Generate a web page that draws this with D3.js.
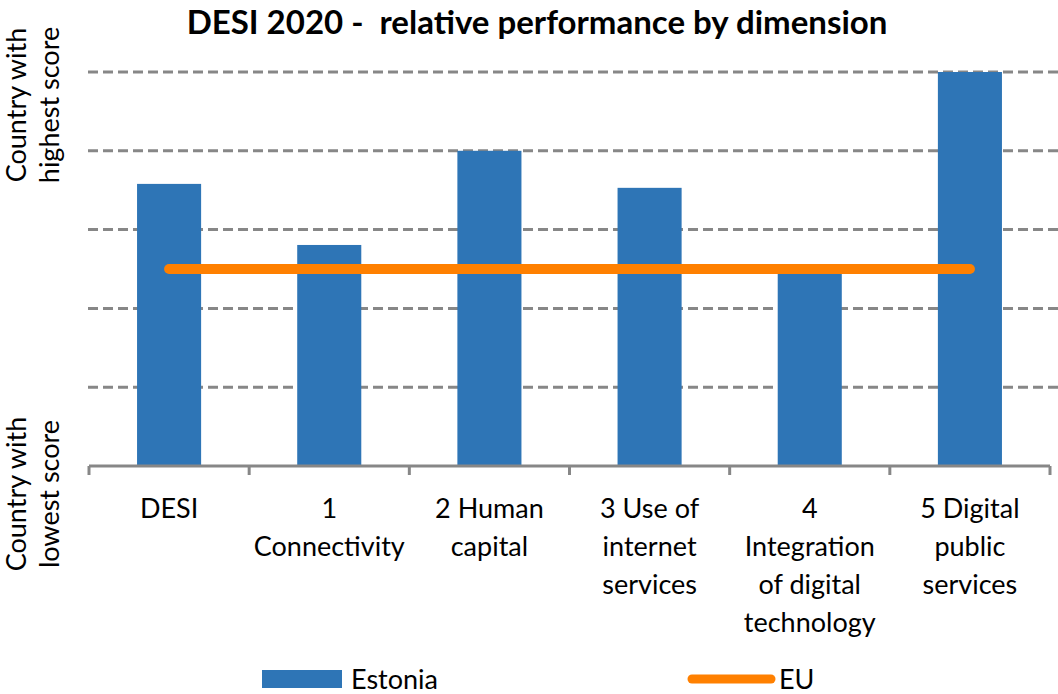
<!DOCTYPE html>
<html>
<head>
<meta charset="utf-8">
<script src="https://cdn.jsdelivr.net/npm/d3@7"></script>
<style>
  body { margin: 0; background: #fff; }
  svg { display: block; font-family: Lato, "Open Sans", sans-serif; }
</style>
</head>
<body>
<div id="chart"></div>
<script>
// DESI 2020 relative performance - Estonia vs EU
const categories = ["DESI", "1 Connectivity", "2 Human capital", "3 Use of internet services",
  "4 Integration of digital technology", "5 Digital public services"];
const labelLines = [
  ["DESI"],
  ["1", "Connectivity"],
  ["2 Human", "capital"],
  ["3 Use of", "internet", "services"],
  ["4", "Integration", "of digital", "technology"],
  ["5 Digital", "public", "services"]
];
const estonia = [0.716, 0.561, 0.80, 0.706, 0.49, 1.0];
const euValue = 0.5;
const yTicks = [0.2, 0.4, 0.6, 0.8, 1.0];

const W = 1058, H = 694;
const margin = { top: 72, right: 8, bottom: 228, left: 89 };
const width = W - margin.left - margin.right;
const height = H - margin.top - margin.bottom;

const blue = "#2E75B6", orange = "#FF8000", grey = "#878787";

const svg = d3.select("#chart").append("svg")
  .attr("width", W).attr("height", H);

const g = svg.append("g").attr("transform", `translate(${margin.left},${margin.top})`);

const x = d3.scaleBand().domain(categories).range([0, width]).padding(0);
const y = d3.scaleLinear().domain([0, 1]).range([height, 0]);

// title
svg.append("text")
  .attr("x", 537).attr("y", 34)
  .attr("text-anchor", "middle")
  .attr("font-weight", "bold")
  .attr("font-size", 33)
  .attr("fill", "#000")
  .attr("xml:space", "preserve")
  .text("DESI 2020 -  relative performance by dimension");

// gridlines
g.selectAll(".grid")
  .data(yTicks)
  .join("line")
  .attr("class", "grid")
  .attr("x1", -1).attr("x2", width + 8)
  .attr("y1", d => y(d)).attr("y2", d => y(d))
  .attr("stroke", grey)
  .attr("stroke-width", 3)
  .attr("stroke-dasharray", "10,5");

// bars
const barW = x.bandwidth() * 0.4;
g.selectAll(".bar")
  .data(estonia)
  .join("rect")
  .attr("class", "bar")
  .attr("x", (d, i) => x(categories[i]) + (x.bandwidth() - barW) / 2)
  .attr("y", d => y(d))
  .attr("width", barW)
  .attr("height", d => y(0) - y(d))
  .attr("fill", blue);

// x axis line and boundary ticks
g.append("line")
  .attr("x1", 0).attr("x2", width)
  .attr("y1", height).attr("y2", height)
  .attr("stroke", grey).attr("stroke-width", 3);

const bounds = categories.map(c => x(c)).concat([width]);
g.selectAll(".tick")
  .data(bounds)
  .join("line")
  .attr("class", "tick")
  .attr("x1", d => d).attr("x2", d => d)
  .attr("y1", height).attr("y2", height + 9)
  .attr("stroke", grey).attr("stroke-width", 3);

// EU line
const euLine = d3.line()
  .x(c => x(c) + x.bandwidth() / 2)
  .y(() => y(euValue));
g.append("path")
  .datum([categories[0], categories[categories.length - 1]])
  .attr("d", euLine)
  .attr("fill", "none")
  .attr("stroke", orange)
  .attr("stroke-width", 10)
  .attr("stroke-linecap", "round");

// category labels
const lbl = g.selectAll(".xlabel")
  .data(labelLines)
  .join("text")
  .attr("class", "xlabel")
  .attr("text-anchor", "middle")
  .attr("font-size", 27)
  .attr("fill", "#000")
  .attr("transform", (d, i) => `translate(${x(categories[i]) + x.bandwidth() / 2},${height + 52})`);
lbl.selectAll("tspan")
  .data(d => d)
  .join("tspan")
  .attr("x", 0)
  .attr("dy", (d, i) => i === 0 ? 0 : 38)
  .text(d => d);

// y-side labels
function sideLabel(lines, cy) {
  const t = svg.append("text")
    .attr("text-anchor", "middle")
    .attr("font-size", 27)
    .attr("fill", "#000")
    .attr("transform", `translate(26,${cy}) rotate(-90)`);
  t.selectAll("tspan").data(lines).join("tspan")
    .attr("x", 0)
    .attr("dy", (d, i) => i === 0 ? 0 : 33)
    .text(d => d);
}
sideLabel(["Country with", "highest score"], 105);
sideLabel(["Country with", "lowest score"], 494);

// legend
const legend = svg.append("g");
legend.append("rect")
  .attr("x", 262).attr("y", 670).attr("width", 80).attr("height", 18)
  .attr("fill", blue);
legend.append("text")
  .attr("x", 351).attr("y", 689)
  .attr("font-size", 27).attr("fill", "#000")
  .text("Estonia");
legend.append("line")
  .attr("x1", 692).attr("x2", 771)
  .attr("y1", 679).attr("y2", 679)
  .attr("stroke", orange).attr("stroke-width", 9)
  .attr("stroke-linecap", "round");
legend.append("text")
  .attr("x", 779).attr("y", 689)
  .attr("font-size", 27).attr("fill", "#000")
  .text("EU");
</script>
</body>
</html>
